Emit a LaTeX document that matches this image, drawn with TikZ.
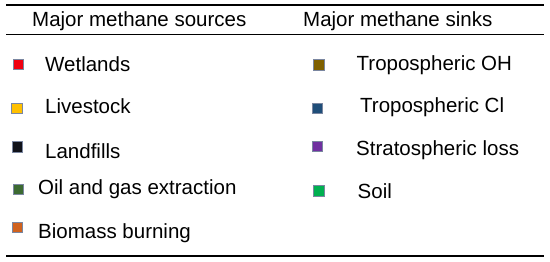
\documentclass[tikz,border=0pt]{standalone}
\usepackage{fontspec}
\setmainfont{Liberation Sans}
\definecolor{cRed}{HTML}{F00010}
\definecolor{cYel}{HTML}{FFC000}
\definecolor{cBlk}{HTML}{10121A}
\definecolor{cDgr}{HTML}{3C6A32}
\definecolor{cOra}{HTML}{D0621E}
\definecolor{cOli}{HTML}{7F6000}
\definecolor{cBlu}{HTML}{1F4E79}
\definecolor{cPur}{HTML}{7030A0}
\definecolor{cGrn}{HTML}{00B050}
\definecolor{cEdge}{HTML}{7A86A0}
\begin{document}
\begin{tikzpicture}[x=1pt,y=-1pt,
  rule/.style={line width=1.6pt,black},
  swatch/.style={draw=cEdge,line width=0.6pt,minimum size=10.5pt,inner sep=0pt},
  lbl/.style={anchor=base west,inner sep=0pt,font=\fontsize{20.5}{24}\selectfont},
  hdr/.style={anchor=base west,inner sep=0pt,font=\fontsize{20.5}{24}\selectfont}]
\useasboundingbox (0,0) rectangle (550,262);
\coordinate (t1) at (6,5);   \coordinate (t2) at (544,5);
\coordinate (m1) at (6,34.5); \coordinate (m2) at (544,34.5);
\coordinate (b1) at (6,256); \coordinate (b2) at (544,256);
\draw[rule] (t1) -- (t2);
\draw[rule] (m1) -- (m2);
\draw[rule] (b1) -- (b2);
\node[hdr] (hsrc) at (32,27) {Major methane sources};
\node[hdr] (hsnk) at (303,27) {Major methane sinks};
% sources
\node[swatch,fill=cRed] (s1) at (18.5,64.5) {};
\node[lbl] (l1) at (45,72) {Wetlands};
\node[swatch,fill=cYel] (s2) at (17,108.5) {};
\node[lbl] (l2) at (45,114) {Livestock};
\node[swatch,fill=cBlk] (s3) at (17.5,147) {};
\node[lbl] (l3) at (45,159) {Landfills};
\node[swatch,fill=cDgr] (s4) at (18.5,189.5) {};
\node[lbl] (l4) at (38,195) {Oil and gas extraction};
\node[swatch,fill=cOra] (s5) at (17.5,227.5) {};
\node[lbl] (l5) at (38,239) {Biomass burning};
% sinks
\node[swatch,fill=cOli] (k1) at (319,65) {};
\node[lbl] (r1) at (356.5,71) {Tropospheric OH};
\node[swatch,fill=cBlu] (k2) at (317.5,108.5) {};
\node[lbl] (r2) at (360,113) {Tropospheric Cl};
\node[swatch,fill=cPur] (k3) at (317.5,146.5) {};
\node[lbl] (r3) at (356,156) {Stratospheric loss};
\node[swatch,fill=cGrn] (k4) at (319,191) {};
\node[lbl] (r4) at (357.5,199) {Soil};
\end{tikzpicture}
\end{document}
